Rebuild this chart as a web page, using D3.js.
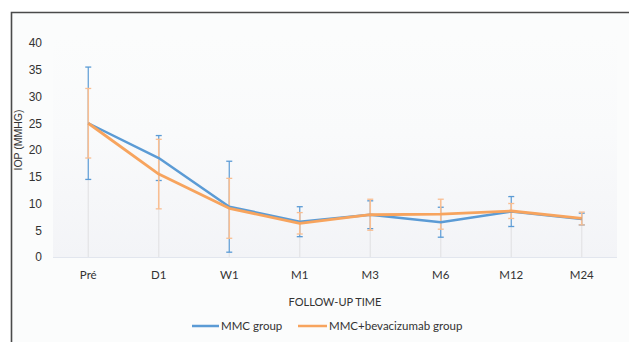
<!DOCTYPE html>
<html>
<head>
<meta charset="utf-8">
<script src="https://cdn.jsdelivr.net/npm/d3@7"></script>
<style>
  html, body { margin: 0; padding: 0; background: #ffffff; }
  svg { display: block; }
</style>
</head>
<body>
<svg id="chart" width="629" height="342"></svg>
<script>
// Follow-up time points
const categories = ["Pré", "D1", "W1", "M1", "M3", "M6", "M12", "M24"];
// Mean IOP (mmHg) per group
const mmcMean = [25.0, 18.5, 9.4, 6.6, 7.9, 6.5, 8.5, 7.1];
const bevMean = [25.0, 15.5, 9.1, 6.3, 7.9, 8.0, 8.6, 7.2];
// Standard deviations
const mmcSD = [10.5, 4.2, 8.5, 2.8, 2.6, 2.8, 2.8, 1.1];
const bevSD = [6.5, 6.5, 5.6, 2.0, 2.9, 2.8, 1.4, 1.2];
const yTicks = [0, 5, 10, 15, 20, 25, 30, 35, 40];

const seriesNames = ["MMC group", "MMC+bevacizumab group"];

const svg = d3.select("#chart");
const W = 629, H = 342;

// outer panel with frame on the left and top
svg.append("rect").attr("x", 11).attr("y", 12).attr("width", W - 11).attr("height", H - 12)
  .attr("fill", "#fbfcfc");
svg.append("path").attr("d", `M11.5,${H} V12.5 H${W}`)
  .attr("fill", "none").attr("stroke", "#4a4a4a").attr("stroke-width", 1.6);

const plot = { left: 53, right: 617, top: 43, bottom: 257 };

const x = d3.scaleBand().domain(categories).range([plot.left, plot.right]);
const y = d3.scaleLinear().domain([0, 40]).range([plot.bottom, plot.top]);

// plot-area background gradient
const defs = svg.append("defs");
const grad = defs.append("linearGradient").attr("id", "bg").attr("x1", 0).attr("y1", 0).attr("x2", 0).attr("y2", 1);
grad.append("stop").attr("offset", "0%").attr("stop-color", "#fbfcfc");
grad.append("stop").attr("offset", "45%").attr("stop-color", "#f9fafb");
grad.append("stop").attr("offset", "100%").attr("stop-color", "#f3f4f7");
svg.append("rect").attr("x", plot.left).attr("y", 35)
  .attr("width", plot.right - plot.left).attr("height", plot.bottom - 35)
  .attr("fill", "url(#bg)");

// baseline
svg.append("line").attr("x1", plot.left).attr("x2", plot.right)
  .attr("y1", plot.bottom + 0.5).attr("y2", plot.bottom + 0.5)
  .attr("stroke", "#e2e6ee").attr("stroke-width", 1);

// y axis labels
const yAxis = d3.axisLeft(y).tickValues(yTicks).tickSize(0).tickPadding(0);
const yg = svg.append("g").attr("transform", "translate(42,0)").call(yAxis);
yg.select(".domain").remove();
yg.selectAll("text").attr("font-family", "Liberation Sans, Arial, sans-serif")
  .attr("font-size", 12).attr("fill", "#333");

// x axis labels
const xAxis = d3.axisBottom(x).tickSize(0).tickPadding(0);
const xg = svg.append("g").attr("transform", `translate(0,${plot.bottom + 14})`).call(xAxis);
xg.select(".domain").remove();
xg.selectAll("text").attr("font-family", "Lato, Open Sans, sans-serif")
  .attr("font-size", 11.5).attr("fill", "#333");

// axis titles
svg.append("text").attr("x", 335).attr("y", 306).attr("text-anchor", "middle")
  .attr("font-family", "Lato, Open Sans, sans-serif").attr("font-size", 11)
  .attr("fill", "#333").text("FOLLOW-UP TIME");
svg.append("text").attr("transform", "translate(22,140) rotate(-90)").attr("text-anchor", "middle")
  .attr("font-family", "Liberation Sans, Arial, sans-serif").attr("font-size", 10.5)
  .attr("fill", "#333").text("IOP (MMHG)");

const cx = d => x(d) + x.bandwidth() / 2;

// faint drop lines from baseline
svg.append("g").selectAll("line").data(categories).join("line")
  .attr("x1", cx).attr("x2", cx)
  .attr("y1", plot.bottom)
  .attr("y2", (d, i) => y(Math.min(mmcMean[i] - mmcSD[i], bevMean[i] - bevSD[i])))
  .attr("stroke", "#e3e3e6").attr("stroke-width", 1.2);

function errorBars(mean, sd, color, width) {
  const g = svg.append("g");
  categories.forEach((c, i) => {
    const xx = cx(c);
    const y1 = y(mean[i] + sd[i]), y2 = y(mean[i] - sd[i]);
    g.append("line").attr("x1", xx).attr("x2", xx).attr("y1", y1).attr("y2", y2)
      .attr("stroke", color).attr("stroke-width", width);
    [y1, y2].forEach(yy => g.append("line")
      .attr("x1", xx - 3).attr("x2", xx + 3).attr("y1", yy).attr("y2", yy)
      .attr("stroke", color).attr("stroke-width", 1.3));
  });
}

const blue = "#5b9bd5", orange = "#f7a45e";

const line = d3.line().x((d, i) => cx(categories[i])).y(d => y(d));

errorBars(mmcMean, mmcSD, "#5b9bd5", 1.2);
errorBars(bevMean, bevSD, "#f8be92", 1.6);

svg.append("path").datum(mmcMean).attr("d", line).attr("fill", "none")
  .attr("stroke", blue).attr("stroke-width", 2.5).attr("stroke-linejoin", "round");
svg.append("path").datum(bevMean).attr("d", line).attr("fill", "none")
  .attr("stroke", orange).attr("stroke-width", 2.8).attr("stroke-linejoin", "round");

// legend
const legend = [
  { name: seriesNames[0], color: blue, x1: 192, x2: 219 },
  { name: seriesNames[1], color: orange, x1: 298, x2: 327 }
];
legend.forEach(l => {
  svg.append("line").attr("x1", l.x1).attr("x2", l.x2).attr("y1", 326).attr("y2", 326)
    .attr("stroke", l.color).attr("stroke-width", 2.5);
  svg.append("text").attr("x", l.x2 + 2).attr("y", 330)
    .attr("font-family", "Lato, Open Sans, sans-serif").attr("font-size", 11.5)
    .attr("fill", "#333").text(l.name);
});
</script>
</body>
</html>
